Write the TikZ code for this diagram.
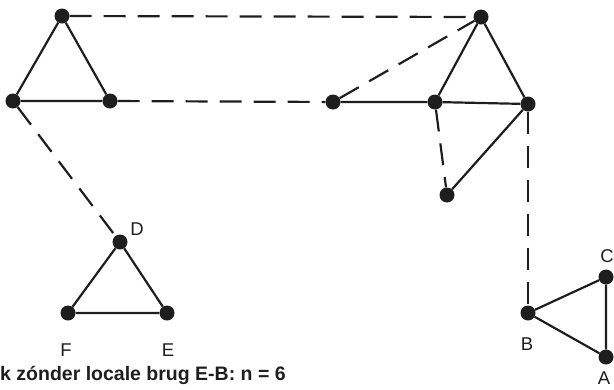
\documentclass[tikz,border=0pt]{standalone}
\usepackage{fontspec}
\setmainfont{Liberation Sans}
\usepackage{tikz}
\usetikzlibrary{positioning}
\definecolor{inkgray}{RGB}{30,30,30}

\begin{document}
\begin{tikzpicture}[x=1pt,y=-1pt,
    dot/.style={circle,fill=inkgray,inner sep=0pt,minimum size=15pt},
    band/.style={draw=inkgray,line width=2.2pt},
    brug/.style={draw=inkgray,line width=2.2pt,dash pattern=on 22pt off 12pt},
    letter/.style={font=\fontsize{18.5}{22}\selectfont,text=inkgray,inner sep=0pt}]
  \useasboundingbox (0,0) rectangle (614,389);
  % left triangle
  \node[dot] (t1) at (62,16) {};
  \node[dot] (l1) at (13,101) {};
  \node[dot] (l2) at (110,101) {};
  % middle / right cluster
  \node[dot] (m1) at (333,102) {};
  \node[dot] (m2) at (435,102) {};
  \node[dot] (m3) at (528,104) {};
  \node[dot] (top) at (481,17) {};
  \node[dot] (low) at (447,195) {};
  % small triangle D-E-F
  \node[dot] (d) at (120,242) {};
  \node[dot] (f) at (68,313) {};
  \node[dot] (e) at (167,313) {};
  % small triangle A-B-C
  \node[dot] (b) at (528,313) {};
  \node[dot] (c) at (606,277) {};
  \node[dot] (a) at (606,357) {};
  % labels
  \node[letter] at (137,229) {D};
  \node[letter] at (66,350) {F};
  \node[letter] at (168,350) {E};
  \node[letter] at (527,344) {B};
  \node[letter] at (607,256) {C};
  \node[letter] at (604,378) {A};
  % solid ties
  \draw[band] (t1) -- (l1) -- (l2) -- (t1);
  \draw[band] (m1) -- (m2) -- (m3) -- (top) -- (m2);
  \draw[band] (m3) -- (low);
  \draw[band] (d) -- (f) -- (e) -- (d);
  \draw[band] (b) -- (c) -- (a) -- (b);
  % bridges
  \draw[brug] (t1) -- (top);
  \draw[brug] (l2) -- (m1);
  \draw[brug] (m1) -- (top);
  \draw[brug] (m2) -- (low);
  \draw[brug] (m3) -- (b);
  \draw[brug] (l1) -- (d);
  % caption
  \node[anchor=base west,inner sep=0pt,text=inkgray,
    font=\fontsize{19.5}{23}\selectfont\bfseries] (cap) at (0,380)
    {k zónder locale brug E-B: n = 6};
\end{tikzpicture}
\end{document}
